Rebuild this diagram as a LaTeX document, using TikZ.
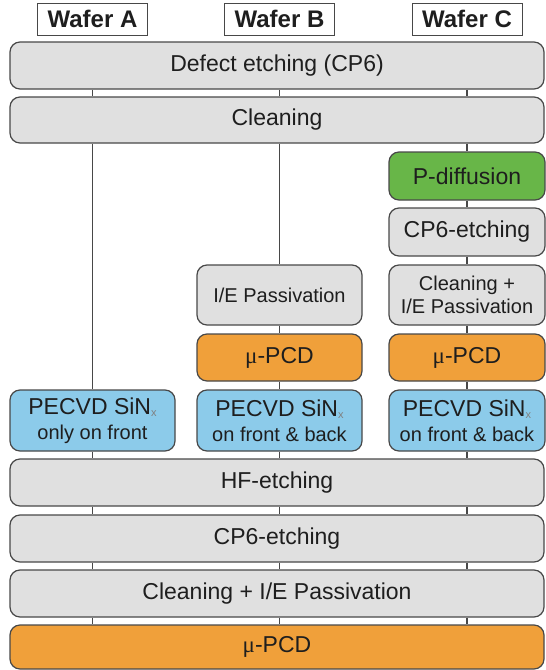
\documentclass[tikz,border=0pt]{standalone}
\usepackage{fontspec}
\setmainfont{Liberation Sans}
\newfontfamily\greekserif{Liberation Serif}
\usepackage{tikz}
\usetikzlibrary{positioning,calc}
\definecolor{barfill}{RGB}{224,224,224}
\definecolor{edgegray}{RGB}{72,72,72}
\definecolor{txtgray}{RGB}{30,30,30}
\definecolor{diffgreen}{RGB}{104,182,72}
\definecolor{pcdorange}{RGB}{240,160,58}
\definecolor{sinblue}{RGB}{140,203,234}
\newcommand{\subx}{\raisebox{-2pt}{\fontsize{11}{11}\selectfont\color{gray}x}}
\newcommand{\mupcd}{{\greekserif μ}-PCD}
\newcommand{\smalltxt}{\fontsize{20}{23}\selectfont}

\begin{document}
\begin{tikzpicture}[x=1pt,y=-1pt,
   every node/.style={font=\fontsize{23}{25}\selectfont,text=txtgray},
   bar/.style={draw=edgegray,line width=1.2pt,rounded corners=10pt,fill=barfill,
     minimum width=534pt,minimum height=47pt,inner sep=0pt},
   stepbox/.style={draw=edgegray,line width=1.2pt,rounded corners=10pt,fill=barfill,
     minimum width=165pt,minimum height=48pt,inner sep=0pt,align=center},
   colc/.style={minimum width=156pt},
   wafer/.style={draw=edgegray,line width=1pt,minimum width=110pt,minimum height=32pt,
     inner sep=0pt,font=\fontsize{24}{26}\selectfont\bfseries},
   link/.style={draw=edgegray,line width=1.4pt}]
  \useasboundingbox (0,0) rectangle (546,670);
  \node[wafer] (wa) at (92.5,19) {Wafer A};
  \node[wafer] (wb) at (279.5,19) {Wafer B};
  \node[wafer] (wc) at (467,19) {Wafer C};
  \node[bar] (defect) at (277,65.5) {Defect etching (CP6)};
  \node[bar,minimum height=46pt] (clean) at (277,120) {Cleaning};
  \node[stepbox,colc,fill=diffgreen] (pdiff) at (467,176) {P-diffusion};
  \node[stepbox,colc] (etchc) at (467,232) {CP6-etching};
  \node[stepbox,colc,minimum height=60pt,font=\smalltxt] (passc) at (467,295) {Cleaning +\\I/E Passivation};
  \node[stepbox,minimum height=60pt,font=\smalltxt] (passb) at (279.5,295) {I/E Passivation};
  \node[stepbox,fill=pcdorange,minimum height=47pt] (pcdb) at (279.5,357.5) {\mupcd};
  \node[stepbox,colc,fill=pcdorange,minimum height=47pt] (pcdc) at (467,357.5) {\mupcd};
  \node[stepbox,fill=sinblue,minimum height=61pt] (sina) at (92.5,420.5) {PECVD SiN\subx\\{\smalltxt only on front}};
  \node[stepbox,fill=sinblue,minimum height=61pt] (sinb) at (279.5,420.5) {PECVD SiN\subx\\{\smalltxt on front \& back}};
  \node[stepbox,colc,fill=sinblue,minimum height=61pt] (sinc) at (467,420.5) {PECVD SiN\subx\\{\smalltxt on front \& back}};
  \node[bar] (hf) at (277,482.5) {HF-etching};
  \node[bar] (etch) at (277,538.5) {CP6-etching};
  \node[bar] (pass) at (277,593.5) {Cleaning + I/E Passivation};
  \node[bar,fill=pcdorange,minimum height=44pt] (pcd) at (277,647) {\mupcd};
  \foreach \c in {wa,wb,wc} {
    \draw[link] (defect.south -| \c) -- (clean.north -| \c);
    \draw[link] (hf.south -| \c) -- (etch.north -| \c);
    \draw[link] (etch.south -| \c) -- (pass.north -| \c);
    \draw[link] (pass.south -| \c) -- (pcd.north -| \c);
  }
  \draw[link] (clean.south -| wa) -- (sina);
  \draw[link] (clean.south -| wb) -- (passb);
  \draw[link] (clean.south -| wc) -- (pdiff);
  \draw[link] (pdiff) -- (etchc);
  \draw[link] (etchc) -- (passc);
  \draw[link] (passc) -- (pcdc);
  \draw[link] (pcdc) -- (sinc);
  \draw[link] (passb) -- (pcdb);
  \draw[link] (pcdb) -- (sinb);
  \draw[link] (sina) -- (hf.north -| sina);
  \draw[link] (sinb) -- (hf.north -| sinb);
  \draw[link] (sinc) -- (hf.north -| sinc);
\end{tikzpicture}
\end{document}
